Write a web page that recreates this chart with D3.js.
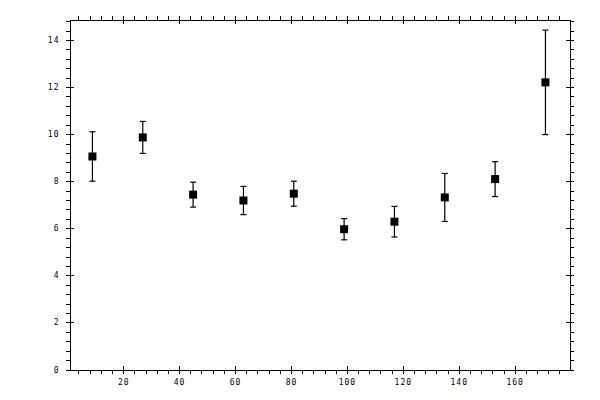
<!DOCTYPE html>
<html>
<head>
<meta charset="utf-8">
<script src="https://cdn.jsdelivr.net/npm/d3@7"></script>
<style>
	body { margin: 0; background: #fff; }
	svg text { font-family: "DejaVu Sans Mono", monospace; font-size: 8px; letter-spacing: 1px; fill: #000; }
</style>
</head>
<body>
<svg width="600" height="400"></svg>
<script>
// bin centres, values and errors
const xValues = [9, 27, 45, 63, 81, 99, 117, 135, 153, 171]
const yValues = [9.05, 9.86, 7.43, 7.18, 7.47, 5.96, 6.28, 7.31, 8.09, 12.2]
const yErrors = [1.05, 0.68, 0.53, 0.6, 0.53, 0.45, 0.65, 1.02, 0.74, 2.22]

const xMajor = [20, 40, 60, 80, 100, 120, 140, 160]
const xMinor = d3.range(4, 180, 4).filter(d => d % 20 !== 0)
const yMajor = [0, 2, 4, 6, 8, 10, 12, 14]
const yMinor = d3.range(0.4, 14.85, 0.4).filter(d => Math.abs(d / 2 - Math.round(d / 2)) > 0.01)

const svg = d3.select("svg")
const plotLeft = 69.5, plotRight = 569.5, plotTop = 19.5, plotBottom = 369.5

const x = d3.scaleLinear().domain([0.8, 179.6]).range([plotLeft, plotRight])
const y = d3.scaleLinear().domain([0, 14.87]).range([plotBottom, plotTop])

// draw ticks on one side: major cross the line, minor point outward
function side(axisFn, scale, pos, major, minor, labels) {
	const g = svg.append("g").attr("transform", pos)
	g.append("g").call(axisFn(scale).tickValues(major).tickSize(4).tickSizeOuter(0)
		.tickPadding(labels ? 6 : 0).tickFormat(labels ? d3.format("d") : ""))
	g.append("g").call(axisFn(scale).tickValues(major).tickSize(-4).tickSizeOuter(0).tickFormat(""))
	g.append("g").call(axisFn(scale).tickValues(minor).tickSize(4).tickSizeOuter(0).tickFormat(""))
	g.selectAll(".domain").attr("stroke", "#000")
	g.selectAll("line").attr("stroke", "#000")
	g.selectAll("text").attr("fill", "#000")
	g.attr("shape-rendering", "crispEdges")
	return g
}

side(d3.axisBottom, x, `translate(0,${plotBottom})`, xMajor, xMinor, true)
side(d3.axisTop, x, `translate(0,${plotTop})`, xMajor, xMinor, false)
side(d3.axisLeft, y, `translate(${plotLeft},0)`, yMajor, yMinor, true)
side(d3.axisRight, y, `translate(${plotRight},0)`, yMajor, yMinor, false)

svg.selectAll("g").attr("font-family", null).attr("font-size", null)

const pts = xValues.map((d, i) => ({ x: d, y: yValues[i], e: yErrors[i] }))

const bars = svg.append("g").attr("stroke", "#000").attr("stroke-width", 1.2)
bars.selectAll(".err")
	.data(pts)
	.join("line")
	.attr("class", "err")
	.attr("x1", d => x(d.x)).attr("x2", d => x(d.x))
	.attr("y1", d => y(d.y - d.e)).attr("y2", d => y(d.y + d.e))
bars.selectAll(".capTop")
	.data(pts)
	.join("line")
	.attr("class", "capTop")
	.attr("x1", d => x(d.x) - 3).attr("x2", d => x(d.x) + 3)
	.attr("y1", d => y(d.y + d.e)).attr("y2", d => y(d.y + d.e))
bars.selectAll(".capBottom")
	.data(pts)
	.join("line")
	.attr("class", "capBottom")
	.attr("x1", d => x(d.x) - 3).attr("x2", d => x(d.x) + 3)
	.attr("y1", d => y(d.y - d.e)).attr("y2", d => y(d.y - d.e))

svg.append("g")
	.selectAll("rect")
	.data(pts)
	.join("rect")
	.attr("x", d => x(d.x) - 4)
	.attr("y", d => y(d.y) - 4)
	.attr("width", 8)
	.attr("height", 8)
	.attr("fill", "#000")
</script>
</body>
</html>
